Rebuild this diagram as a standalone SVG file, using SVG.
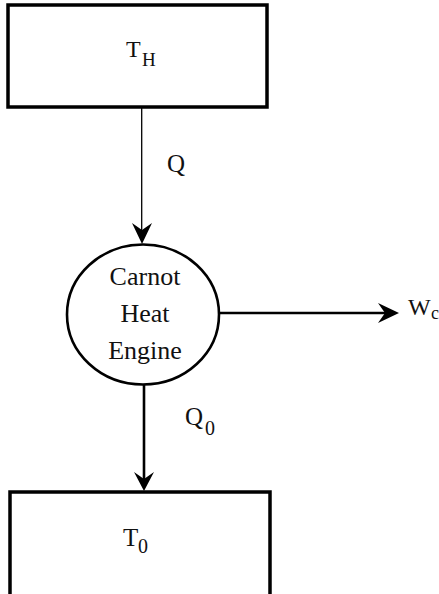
<svg xmlns="http://www.w3.org/2000/svg" width="439" height="594" viewBox="0 0 439 594">
<style>
.box{fill:none;stroke:#000;stroke-width:3.5}
.t{font-family:"Liberation Serif","Times New Roman",serif;fill:#111}
.c{stroke:#000;fill:none}
.ah{fill:#000;stroke:none}
</style>
<rect width="439" height="594" fill="#fff"/>
<g id="hot-reservoir">
<rect class="box" x="8" y="5" width="259" height="102"/>
<text class="t" x="126" y="57" font-size="24">T</text>
<text class="t" x="142" y="66" font-size="19">H</text>
</g>
<g id="engine">
<ellipse cx="143" cy="314.5" rx="76" ry="70" fill="#fff" stroke="#000" stroke-width="2.6"/>
<text class="t" x="145" y="285" font-size="26" text-anchor="middle">Carnot</text>
<text class="t" x="145" y="322" font-size="26" text-anchor="middle">Heat</text>
<text class="t" x="145" y="359" font-size="26" text-anchor="middle">Engine</text>
</g>
<g id="cold-reservoir">
<path class="box" d="M10,600 V492 H270 V600"/>
<text class="t" x="123" y="546" font-size="25">T</text>
<text class="t" x="138" y="553" font-size="20">0</text>
</g>
<g id="connectors">
<line class="c" x1="141.7" y1="107" x2="141.7" y2="236" stroke-width="1.3" stroke="#333"/>
<path class="ah" d="M142,244 L132,223 L142,230 L152,223 Z"/>
<text class="t" x="167" y="172" font-size="25">Q</text>
<line class="c" x1="219" y1="313" x2="392" y2="313" stroke-width="2.6"/>
<path class="ah" d="M399,313 L378,303 L385,313 L378,323 Z"/>
<text class="t" x="408" y="315" font-size="24">W</text>
<text class="t" x="431" y="319" font-size="18">c</text>
<line class="c" x1="144" y1="384" x2="144" y2="482" stroke-width="2.6"/>
<path class="ah" d="M144,491 L134,472 L144,479 L154,472 Z"/>
<text class="t" x="185" y="425" font-size="25">Q</text>
<text class="t" x="205" y="435" font-size="20">0</text>
</g>
</svg>
